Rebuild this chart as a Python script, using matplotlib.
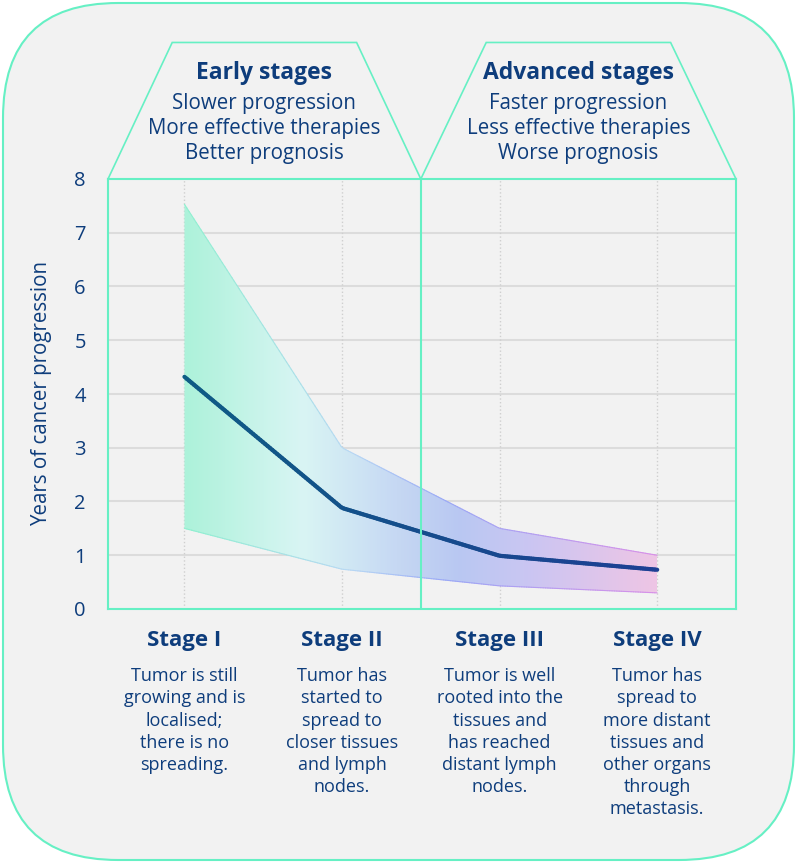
import matplotlib.pyplot as plt
import numpy as np
from matplotlib.patches import FancyBboxPatch, Polygon
from matplotlib.collections import LineCollection
from matplotlib.colors import LinearSegmentedColormap
from matplotlib.transforms import IdentityTransform

plt.rcParams['font.family'] = ['Open Sans', 'DejaVu Sans']

# Dados
stages = ["Stage I", "Stage II", "Stage III", "Stage IV"]
years_mid = [4.32, 1.88, 0.99, 0.73]
years_high = [7.53, 3.0, 1.5, 1.0]
years_low = [1.5, 0.74, 0.43, 0.30]

stage_notes = [
    ["Tumor is still", "growing and is", "localised;", "there is no", "spreading."],
    ["Tumor has", "started to", "spread to", "closer tissues", "and lymph", "nodes."],
    ["Tumor is well", "rooted into the", "tissues and", "has reached", "distant lymph", "nodes."],
    ["Tumor has", "spread to", "more distant", "tissues and", "other organs", "through", "metastasis."],
]

group_titles = ["Early stages", "Advanced stages"]
group_notes = [
    ["Slower progression", "More effective therapies", "Better prognosis"],
    ["Faster progression", "Less effective therapies", "Worse prognosis"],
]

y_ticks = [0, 1, 2, 3, 4, 5, 6, 7, 8]

GREEN = '#66f0c4'
NAVY = '#0e3d7c'
BG = '#f2f2f2'

W, H = 797, 863
fig = plt.figure(figsize=(W / 100, H / 100), dpi=100)
fig.patch.set_facecolor('white')

# Caixa de fundo arredondada (em pixels)
box = FancyBboxPatch((3, 3), W - 6, H - 6, boxstyle="round,pad=0,rounding_size=115",
                     facecolor=BG, edgecolor=GREEN, linewidth=1.5,
                     transform=IdentityTransform(), zorder=0)
fig.add_artist(box)

# Eixo principal
left, right, top, bottom = 108, 736, 179, 609
ax = fig.add_axes([left / W, 1 - bottom / H, (right - left) / W, (bottom - top) / H])
ax.set_facecolor(BG)

x = np.arange(len(stages))
x0, x1 = -0.485, 3.5

# Grade
for yv in y_ticks[1:-1]:
    ax.axhline(yv, color='#dcdcdc', linewidth=1.5, zorder=1)
for xv in x:
    ax.axvline(xv, color='#cfcfcf', linewidth=1, linestyle=':', zorder=1)

# Faixa com gradiente
band_cmap = LinearSegmentedColormap.from_list('band', [
    (0.0, '#adf2da'), (0.25, '#d9f5f4'), (0.45, '#c6d8f3'),
    (0.58, '#b9c8f2'), (0.72, '#c9c6f3'), (1.0, '#eec5e5')])
band = ax.fill_between(x, years_low, years_high, facecolor='none', edgecolor='none')
grad = np.linspace(0, 1, 300).reshape(1, -1)
img = ax.imshow(grad, cmap=band_cmap, extent=[x[0], x[-1], 0, 8], aspect='auto',
                origin='lower', zorder=2, interpolation='bilinear')
img.set_clip_path(band.get_paths()[0], transform=ax.transData)
ax.set_xlim(x0, x1)
ax.set_ylim(0, 8)

# Bordas da faixa
edge_cmap = LinearSegmentedColormap.from_list('edge', [
    (0.0, '#8ff0d0'), (0.35, '#b8d8f4'), (0.55, '#9aa8f6'), (1.0, '#d890e8')])


def gradient_line(xs, ys, cmap, lw, n=200, z=3):
    xf = np.linspace(xs[0], xs[-1], n)
    yf = np.interp(xf, xs, ys)
    pts = np.column_stack([xf, yf]).reshape(-1, 1, 2)
    segs = np.concatenate([pts[:-1], pts[1:]], axis=1)
    lc = LineCollection(segs, cmap=cmap, linewidth=lw, zorder=z, capstyle='round')
    lc.set_array((xf[:-1] - xs[0]) / (xs[-1] - xs[0]))
    lc.set_clim(0, 1)
    ax.add_collection(lc)


gradient_line(x, years_high, edge_cmap, 0.8)
gradient_line(x, years_low, edge_cmap, 0.8)

# Linha central
line_cmap = LinearSegmentedColormap.from_list('line', ['#0f5c85', '#154c8c', '#1d3f94'])
gradient_line(x, years_mid, line_cmap, 3.0, z=4)

# Molduras verdes
for s in ['left', 'right', 'bottom', 'top']:
    ax.spines[s].set_color(GREEN)
    ax.spines[s].set_linewidth(1.5)
ax.axvline(1.5, color=GREEN, linewidth=1.5, zorder=5)

ax.set_xticks([])
ax.set_yticks(y_ticks)
ax.set_yticklabels([str(t) for t in y_ticks], fontsize=14.5, color=NAVY)
ax.tick_params(axis='y', length=0, pad=16)
ax.set_ylabel('Years of cancer progression', fontsize=14.8, color=NAVY, labelpad=16)

# Trapezios do cabeçalho
for i, (bl, br) in enumerate([(x0, 1.5), (1.5, x1)]):
    cx = (bl + br) / 2
    half_top = 0.585
    trap = Polygon([[bl, 8], [cx - half_top, 10.54], [cx + half_top, 10.54], [br, 8]],
                   closed=True, facecolor='none', edgecolor=GREEN, linewidth=1.2,
                   clip_on=False, zorder=5)
    ax.add_patch(trap)
    ax.text(cx, 9.97, group_titles[i], ha='center', va='center', fontsize=16.5,
            fontweight='bold', color=NAVY, clip_on=False)
    for j, line in enumerate(group_notes[i]):
        ax.text(cx, 9.40 - j * 0.46, line, ha='center', va='center', fontsize=14.8,
                color=NAVY, clip_on=False)

# Rótulos dos estágios
for i, name in enumerate(stages):
    ax.text(x[i], -0.58, name, ha='center', va='center', fontsize=16,
            fontweight='bold', color=NAVY, clip_on=False)
    for j, line in enumerate(stage_notes[i]):
        ax.text(x[i], -1.25 - j * 0.413, line, ha='center', va='center', fontsize=13,
                color=NAVY, clip_on=False)

fig.savefig('out.png', dpi=100, facecolor=fig.get_facecolor())
